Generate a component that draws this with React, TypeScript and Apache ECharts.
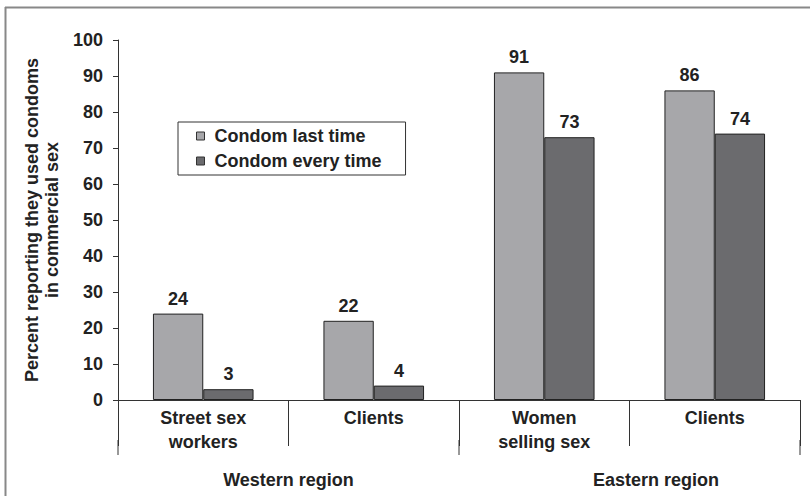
import React, { useEffect, useRef } from "react";
import * as echarts from "echarts";

const categories = ["Street sex\nworkers", "Clients", "Women\nselling sex", "Clients"];
const lastTime = [24, 22, 91, 86];
const everyTime = [3, 4, 73, 74];
const regions = ["Western region", "Eastern region"];
const yTitle = "Percent reporting they used condoms\nin commercial sex";

const FONT = "'Liberation Sans', Arial, sans-serif";
const GL = 118;
const GR = 10;
const GT = 40;
const GB = 96;
const W = 810;

export default function App() {
  const ref = useRef<HTMLDivElement>(null);
  useEffect(() => {
    if (!ref.current) return;
    const chart = echarts.init(ref.current, undefined, { renderer: "svg" });
    const plotW = W - GL - GR;
    const catW = plotW / categories.length;
    const axisY = 496 - GB;
    const bx = (i: number) => GL + i * catW;
    const longLines = [0, 2, 4].map((i) => ({
      type: "line",
      shape: { x1: bx(i), y1: axisY + 40, x2: bx(i), y2: axisY + 55 },
      style: { stroke: "#333", lineWidth: 1 },
    }));
    const labelStyle = {
      fontFamily: FONT,
      fontWeight: "bold",
      fontSize: 18,
      color: "#222",
    };
    chart.setOption({
      animation: false,
      grid: { left: GL, right: GR, top: GT, bottom: GB },
      legend: {
        orient: "vertical",
        left: 178,
        top: 122,
        itemWidth: 8,
        itemHeight: 8,
        itemGap: 7,
        padding: [5, 24, 5, 18],
        borderColor: "#333",
        borderWidth: 1,
        icon: "rect",
        itemStyle: { borderColor: "#333", borderWidth: 1 },
        textStyle: { ...labelStyle, padding: [0, 0, 0, 5] },
        data: ["Condom last time", "Condom every time"],
      },
      xAxis: {
        type: "category",
        data: categories,
        axisLine: { lineStyle: { color: "#333", width: 1 } },
        axisTick: { show: true, interval: 0, length: 46, lineStyle: { color: "#333" } },
        axisLabel: { ...labelStyle, interval: 0, margin: 6, lineHeight: 24 },
      },
      yAxis: {
        type: "value",
        min: 0,
        max: 100,
        interval: 10,
        name: yTitle,
        nameLocation: "middle",
        nameGap: 55,
        nameRotate: 90,
        nameTextStyle: { ...labelStyle, lineHeight: 20 },
        axisLine: { show: true, lineStyle: { color: "#333", width: 1 } },
        axisTick: { show: true, length: 5, lineStyle: { color: "#333" } },
        axisLabel: { ...labelStyle, margin: 15 },
        splitLine: { show: false },
      },
      series: [
        {
          name: "Condom last time",
          type: "bar",
          data: lastTime,
          barGap: "0%",
          barCategoryGap: "41%",
          itemStyle: { color: "#a7a7aa", borderColor: "#222", borderWidth: 1 },
          label: { show: true, position: "top", distance: 6, ...labelStyle },
        },
        {
          name: "Condom every time",
          type: "bar",
          data: everyTime,
          itemStyle: { color: "#6b6b6e", borderColor: "#222", borderWidth: 1 },
          label: { show: true, position: "top", distance: 6, ...labelStyle },
        },
      ],
      graphic: [
        {
          type: "line",
          shape: { x1: 5.5, y1: 7, x2: 5.5, y2: 496 },
          style: { stroke: "#888", lineWidth: 2 },
        },
        {
          type: "line",
          shape: { x1: 5, y1: 7.5, x2: 810, y2: 7.5 },
          style: { stroke: "#888", lineWidth: 2 },
        },
        ...longLines,
        {
          type: "text",
          x: (bx(0) + bx(2)) / 2,
          y: 480,
          style: {
            text: regions[0],
            fontFamily: FONT,
            fontWeight: "bold",
            fontSize: 18,
            fill: "#222",
            align: "center",
            verticalAlign: "middle",
          },
        },
        {
          type: "text",
          x: 656,
          y: 480,
          style: {
            text: regions[1],
            fontFamily: FONT,
            fontWeight: "bold",
            fontSize: 18,
            fill: "#222",
            align: "center",
            verticalAlign: "middle",
          },
        },
      ],
    });
    return () => chart.dispose();
  }, []);
  return <div ref={ref} style={{ width: 810, height: 496, position: "absolute", left: 0, top: 0 }} />;
}
